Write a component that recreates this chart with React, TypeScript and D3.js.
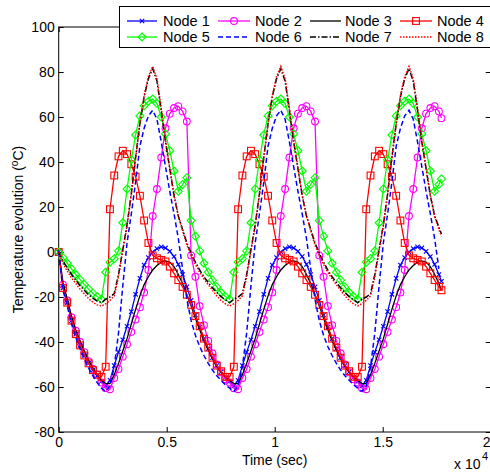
import React, { useEffect, useRef } from 'react';
import * as d3 from 'd3';

// time in seconds (x axis shows units of 10^4 s)
const timeSec = [
  0, 198, 396, 593, 791, 989, 1187, 1384, 1582, 1780,
  1978, 2175, 2373, 2571, 2769, 2967, 3164, 3362, 3560, 3758,
  3955, 4153, 4351, 4549, 4746, 4944, 5142, 5340, 5538, 5735,
  5933, 6131, 6329, 6526, 6724, 6922, 7120, 7317, 7515, 7713,
  7911, 8108, 8306, 8504, 8702, 8900, 9097, 9295, 9493, 9691,
  9888, 10086, 10284, 10482, 10680, 10877, 11075, 11273, 11471, 11668,
  11866, 12064, 12262, 12459, 12657, 12855, 13053, 13251, 13448, 13646,
  13844, 14041, 14239, 14437, 14635, 14833, 15030, 15228, 15426, 15624,
  15821, 16019, 16217, 16415, 16612, 16810, 17008, 17206, 17404, 17602,
  17720,
];

const node1 = [
  0, -16, -22.5, -30.5, -36.5, -41.5, -46, -49.5, -52.5, -55,
  -57.5, -59.5, -57, -50.5, -44.5, -39, -33, -26.5, -18.8, -11.7,
  -5.8, -2.5, 0, 1.5, 2.3, 1.8, 0.3, -2, -5.5, -10,
  -15.5, -21.5, -28, -33.5, -38.5, -43, -47, -50.5, -53.3, -55.7,
  -57.5, -59.5, -57, -50.5, -44.5, -39, -33, -26.5, -18.8, -11.7,
  -5.8, -2.5, 0, 1.5, 2.3, 1.8, 0.3, -2, -5.5, -10,
  -15.5, -21.5, -28, -33.5, -38.5, -43, -47, -50.5, -53.3, -55.7,
  -57.5, -59.5, -57, -50.5, -44.5, -39, -33, -26.5, -18.8, -11.7,
  -5.8, -2.5, 0, 1.5, 2.3, 1.8, 0.3, -2, -5.5, -10,
  -13,
];

const node2 = [
  0, -14.5, -21.5, -29, -35, -40, -44.5, -48.5, -52, -54.5,
  -58, -60.5, -61, -56, -52, -46.5, -41, -35.5, -30, -24.5,
  -18, -8, 16, 28, 42, 55, 61.5, 64, 64.8, 62.5,
  58, -1.5, -11, -24, -32.5, -39.5, -45, -50, -53.5, -56.5,
  -58, -60.5, -61, -56, -52, -46.5, -41, -35.5, -30, -24.5,
  -18, -8, 16, 28, 42, 55, 61.5, 64, 64.8, 62.5,
  58, -1.5, -11, -24, -32.5, -39.5, -45, -50, -53.5, -56.5,
  -58, -60.5, -61, -56, -52, -46.5, -41, -35.5, -30, -24.5,
  -18, -8, 16, 28, 42, 55, 61.5, 64, 64.8, 62.5,
  59.5,
];

const node3 = [
  0, -13.5, -21, -28.5, -34.5, -39.5, -44, -48, -51.5, -54.5,
  -57, -58.5, -58.5, -54.5, -49.5, -44, -38.5, -32, -25.5, -19.5,
  -14.5, -11, -8, -6, -4.5, -4, -4.5, -6.5, -10, -14,
  -19, -24, -29.5, -34.5, -39.5, -43.5, -47.5, -51, -53.5, -55.5,
  -57, -58.5, -58.5, -54.5, -49.5, -44, -38.5, -32, -25.5, -19.5,
  -14.5, -11, -8, -6, -4.5, -4, -4.5, -6.5, -10, -14,
  -19, -24, -29.5, -34.5, -39.5, -43.5, -47.5, -51, -53.5, -55.5,
  -57, -58.5, -58.5, -54.5, -49.5, -44, -38.5, -32, -25.5, -19.5,
  -14.5, -11, -8, -6, -4.5, -4, -4.5, -6.5, -10, -14,
  -17,
];

const node4 = [
  0, -16, -22.5, -30.5, -36.5, -41.5, -46, -49.5, -52.5, -54.5,
  -55.5, -51, 19, 34, 42.5, 45, 43.5, 39, 33.5, 25,
  14, 4, -1.5, -2.8, -3.5, -4.2, -6.5, -9.5, -12.5, -15.5,
  -19, -23.5, -28.5, -33, -38.5, -42.5, -47, -50.5, -53, -55.5,
  -55.5, -51, 19, 34, 42.5, 45, 43.5, 39, 33.5, 25,
  14, 4, -1.5, -2.8, -3.5, -4.2, -6.5, -9.5, -12.5, -15.5,
  -19, -23.5, -28.5, -33, -38.5, -42.5, -47, -50.5, -53, -55.5,
  -55.5, -51, 19, 34, 42.5, 45, 43.5, 39, 33.5, 25,
  14, 4, -1.5, -2.8, -3.5, -4.2, -6.5, -9.5, -12.5, -15.5,
  -17,
];

const node5 = [
  0, -2.5, -5, -7.5, -10, -12.3, -14.5, -16.5, -18.3, -19.8,
  -21, -9, -4.5, -3, 0.5, 13, 28, 41, 52, 60.5,
  65, 67, 68, 66, 60, 52.5, 45, 36, 27, 30,
  33, 14, 7, 0.5, -5, -9, -12.5, -15.5, -18, -19.8,
  -21, -9, -4.5, -3, 0.5, 13, 28, 41, 52, 60.5,
  65, 67, 68, 66, 60, 52.5, 45, 36, 27, 30,
  33, 14, 7, 0.5, -5, -9, -12.5, -15.5, -18, -19.8,
  -21, -9, -4.5, -3, 0.5, 13, 28, 41, 52, 60.5,
  65, 67, 68, 66, 60, 52.5, 45, 36, 27, 30,
  32.5,
];

const node6 = [
  0, -17, -24, -32, -38, -43, -47.5, -51.5, -55, -58,
  -60.5, -62, -59.5, -51, -36, -15, 4, 17, 31, 47,
  55, 60.5, 63, 59, 49, 38, 27, 17, 6, -7.5,
  -21, -30.5, -37, -42, -46, -49.5, -52.5, -55, -57, -59,
  -60.5, -62, -59.5, -51, -36, -15, 4, 17, 31, 47,
  55, 60.5, 63, 59, 49, 38, 27, 17, 6, -7.5,
  -21, -30.5, -37, -42, -46, -49.5, -52.5, -55, -57, -59,
  -60.5, -62, -59.5, -51, -36, -15, 4, 17, 31, 47,
  55, 60.5, 63, 59, 49, 38, 27, 17, 6, -7.5,
  null,
];

const node7 = [
  0, -4, -7, -10, -12.5, -15, -17, -19, -20.5, -21.8,
  -22.5, -21, -20, -18.5, -10, 1, 12, 26, 42, 57,
  69, 77, 81.5, 76, 63, 49, 37, 25, 16, 10,
  4, -0.5, -4.5, -8, -11, -13.5, -16, -18, -19.8, -21.2,
  -22.5, -21, -20, -18.5, -10, 1, 12, 26, 42, 57,
  69, 77, 81.5, 76, 63, 49, 37, 25, 16, 10,
  4, -0.5, -4.5, -8, -11, -13.5, -16, -18, -19.8, -21.2,
  -22.5, -21, -20, -18.5, -10, 1, 12, 26, 42, 57,
  69, 77, 81.5, 76, 63, 49, 37, 25, 16, 11,
  8,
];

const node8 = [
  0, -5, -8.5, -11.5, -14, -16.5, -18.7, -20.7, -22.3, -23.5,
  -24, -23, -21.5, -19.5, -11, 0.5, 11.5, 25.5, 41.5, 57,
  69.5, 78, 82.5, 77, 64, 50, 37.5, 25.5, 16, 9.5,
  3, -1.5, -5.5, -9, -12, -14.5, -17, -19.5, -21.5, -23,
  -24, -23, -21.5, -19.5, -11, 0.5, 11.5, 25.5, 41.5, 57,
  69.5, 78, 82.5, 77, 64, 50, 37.5, 25.5, 16, 9.5,
  3, -1.5, -5.5, -9, -12, -14.5, -17, -19.5, -21.5, -23,
  -24, -23, -21.5, -19.5, -11, 0.5, 11.5, 25.5, 41.5, 57,
  69.5, 78, 82.5, 77, 64, 50, 37.5, 25.5, 16, 10,
  7,
];

const seriesNames = ['Node 1', 'Node 2', 'Node 3', 'Node 4', 'Node 5', 'Node 6', 'Node 7', 'Node 8'];
const xTicks = [0, 5000, 10000, 15000, 20000];
const yTicks = [-80, -60, -40, -20, 0, 20, 40, 60, 80, 100];

const seriesStyle = [
  { color: '#0000ff', dash: null, marker: 'x' },
  { color: '#ff00ff', dash: null, marker: 'o' },
  { color: '#000000', dash: null, marker: null },
  { color: '#ff0000', dash: null, marker: 's' },
  { color: '#00ff00', dash: null, marker: 'd' },
  { color: '#0000ff', dash: '5,3', marker: null },
  { color: '#000000', dash: '6,2,1.5,2', marker: null },
  { color: '#ff0000', dash: '1.5,1.5', marker: null },
];

const drawMarker = (g, type, cx, cy, color) => {
  if (type === 'x') {
    g.append('path')
      .attr('d', `M${cx - 2.2},${cy - 2.2}L${cx + 2.2},${cy + 2.2}M${cx - 2.2},${cy + 2.2}L${cx + 2.2},${cy - 2.2}`)
      .attr('stroke', color).attr('stroke-width', 1.1).attr('fill', 'none');
  } else if (type === 'o') {
    g.append('circle').attr('cx', cx).attr('cy', cy).attr('r', 3.4)
      .attr('stroke', color).attr('stroke-width', 1.1).attr('fill', 'none');
  } else if (type === 's') {
    g.append('rect').attr('x', cx - 3.4).attr('y', cy - 3.4).attr('width', 6.8).attr('height', 6.8)
      .attr('stroke', color).attr('stroke-width', 1.1).attr('fill', 'none');
  } else if (type === 'd') {
    g.append('path')
      .attr('d', `M${cx},${cy - 4}L${cx + 4},${cy}L${cx},${cy + 4}L${cx - 4},${cy}Z`)
      .attr('stroke', color).attr('stroke-width', 1.1).attr('fill', 'none');
  }
};

const App = () => {
  const svgRef = useRef(null);

  useEffect(() => {
    const svg = d3.select(svgRef.current);
    svg.selectAll('*').remove();

    const x = d3.scaleLinear().domain([0, 20000]).range([58.7, 490.7]);
    const y = d3.scaleLinear().domain([-80, 100]).range([432, 27]);
    const font = '"Liberation Sans", Arial, sans-serif';

    svg.append('rect').attr('width', 490).attr('height', 475).attr('fill', '#fff');

    // axes with inward ticks
    const left = svg.append('g').attr('transform', `translate(${x(0)},0)`)
      .call(d3.axisLeft(y).tickValues(yTicks).tickSizeInner(-5).tickSizeOuter(0).tickPadding(4)
        .tickFormat(d => String(d)));
    const right = svg.append('g').attr('transform', `translate(${x(20000)},0)`)
      .call(d3.axisRight(y).tickValues(yTicks).tickSizeInner(-5).tickSizeOuter(0).tickFormat(() => ''));
    const bottom = svg.append('g').attr('transform', `translate(0,${y(-80)})`)
      .call(d3.axisBottom(x).tickValues(xTicks).tickSizeInner(-5).tickSizeOuter(0).tickPadding(5)
        .tickFormat(d => String(d / 10000)));
    const top = svg.append('g').attr('transform', `translate(0,${y(100)})`)
      .call(d3.axisTop(x).tickValues(xTicks).tickSizeInner(-5).tickSizeOuter(0).tickFormat(() => ''));

    [left, right, bottom, top].forEach(a => {
      a.select('.domain').remove();
      a.selectAll('line').attr('stroke', '#000');
      a.selectAll('text').attr('font-family', font).attr('font-size', 14).attr('fill', '#000');
    });
    // last x label sits at the window edge; keep it inside
    bottom.selectAll('.tick').filter(d => d === 20000).select('text').attr('x', -4.5);

    svg.append('rect')
      .attr('x', x(0)).attr('y', y(100))
      .attr('width', x(20000) - x(0)).attr('height', y(-80) - y(100))
      .attr('fill', 'none').attr('stroke', '#000').attr('stroke-width', 1);

    // series
    const allSeries = [node1, node2, node3, node4, node5, node6, node7, node8];
    const line = d3.line().x(d => x(d[0])).y(d => y(d[1]));
    allSeries.forEach((vals, i) => {
      const st = seriesStyle[i];
      const pts = timeSec.map((t, k) => [t, vals[k]]).filter(d => d[1] !== null && d[1] !== undefined);
      const g = svg.append('g');
      g.append('path')
        .attr('d', line(pts))
        .attr('fill', 'none')
        .attr('stroke', st.color)
        .attr('stroke-width', st.dash ? 1.5 : 1.3)
        .attr('stroke-dasharray', st.dash);
      if (st.marker) {
        pts.forEach(p => drawMarker(g, st.marker, x(p[0]), y(p[1]), st.color));
      }
    });

    // legend
    const lg = svg.append('g');
    lg.append('rect').attr('x', 119.5).attr('y', 6.5).attr('width', 374).attr('height', 41)
      .attr('fill', '#fff').attr('stroke', '#000').attr('stroke-width', 1);
    const colLine = [[127, 157], [218, 250], [310, 341], [400, 432]];
    const colText = [163, 255, 345, 437];
    const rowY = [21, 37];
    seriesNames.forEach((name, i) => {
      const st = seriesStyle[i];
      const c = i % 4;
      const r = Math.floor(i / 4);
      lg.append('line')
        .attr('x1', colLine[c][0]).attr('x2', colLine[c][1])
        .attr('y1', rowY[r]).attr('y2', rowY[r])
        .attr('stroke', st.color)
        .attr('stroke-width', st.dash ? 1.5 : 1.3)
        .attr('stroke-dasharray', st.dash);
      if (st.marker) drawMarker(lg, st.marker, (colLine[c][0] + colLine[c][1]) / 2, rowY[r], st.color);
      lg.append('text')
        .attr('x', colText[c]).attr('y', rowY[r]).attr('dy', '0.36em')
        .attr('font-family', font).attr('font-size', 14.5)
        .text(name);
    });

    // labels
    svg.append('text')
      .attr('x', (x(0) + x(20000)) / 2).attr('y', 465)
      .attr('text-anchor', 'middle')
      .attr('font-family', font).attr('font-size', 14)
      .text('Time (sec)');

    const yl = svg.append('text')
      .attr('transform', `translate(22.5,${(y(100) + y(-80)) / 2}) rotate(-90)`)
      .attr('text-anchor', 'middle')
      .attr('font-family', font).attr('font-size', 14);
    yl.append('tspan').text('Temperature evolution (');
    yl.append('tspan').attr('dy', -5).attr('font-size', 10).text('o');
    yl.append('tspan').attr('dy', 5).text('C)');

    svg.append('text').attr('x', 454).attr('y', 469)
      .attr('font-family', font).attr('font-size', 14).text('x 10');
    svg.append('text').attr('x', 482).attr('y', 460)
      .attr('font-family', font).attr('font-size', 11).text('4');
  }, []);

  return (
    <svg ref={svgRef} width={490} height={475}
      style={{ position: 'absolute', left: 0, top: 0, display: 'block' }} />
  );
};

export default App;
